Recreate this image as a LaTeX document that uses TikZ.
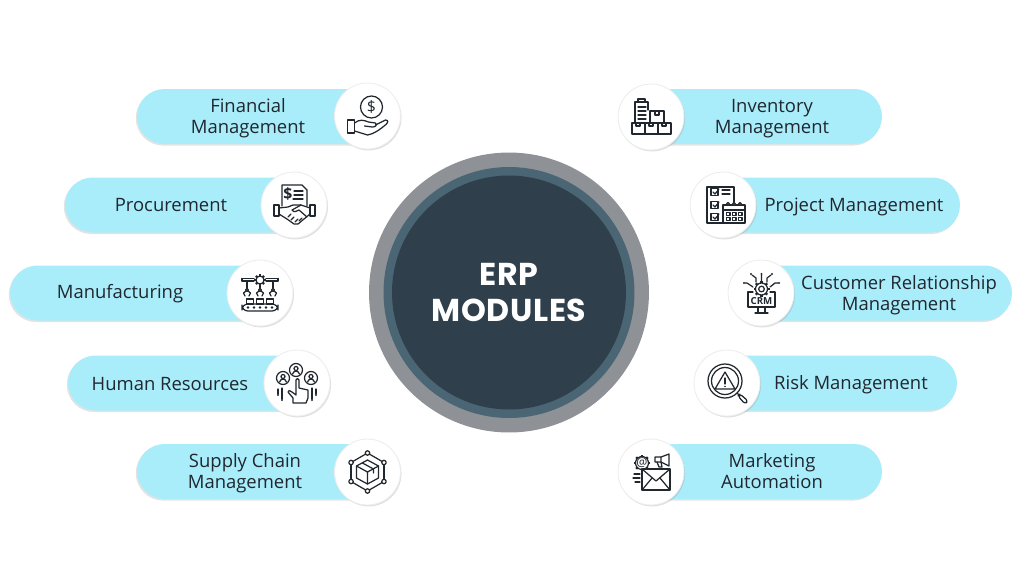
\documentclass[tikz,border=0pt]{standalone}
\usepackage{fontspec}
\setmainfont{Open Sans}
\newfontfamily\titlefont[LetterSpace=2]{Poppins}
\usepackage{xcolor}
\usetikzlibrary{shapes.misc,shadows,calc}

\definecolor{pillblue}{HTML}{A9EDFB}
\definecolor{ringgrey}{HTML}{8E9196}
\definecolor{ringblue}{HTML}{4A6573}
\definecolor{coredark}{HTML}{2F3F4C}
\definecolor{inkdark}{HTML}{20272E}

\tikzset{
    pill/.style={fill=pillblue, rounded rectangle, minimum height=1.1cm, inner sep=0pt,
        drop shadow={shadow xshift=-0.7pt, shadow yshift=-0.9pt, opacity=0.22}},
    pilltext/.style={text=inkdark, align=center, inner sep=0pt, font=\fontsize{10.5}{11.9}\selectfont},
    iconbase/.style={circle, fill=white, draw=black!7, line width=0.5pt, minimum size=1.32cm, inner sep=0pt,
        drop shadow={shadow xshift=0.6pt, shadow yshift=-0.8pt, opacity=0.25}},
    icon/.style={draw=inkdark, line width=0.7pt, line join=round, line cap=round},
    icontext/.style={text=inkdark, inner sep=0pt}
}

\newcommand{\gearshape}[3]{%
    \draw (#1,#2) circle (#3);
    \foreach \a in {0,45,...,315}
        \draw[line width=1.3pt, line cap=butt] ($(#1,#2)+(\a:#3)$) -- ($(#1,#2)+(\a:#3+1.8)$);
}

\begin{document}
\begin{tikzpicture}[x=0.02cm, y=-0.02cm]
    \useasboundingbox (0,0) rectangle (1024,576);

    % Centre
    \node[circle, fill=ringgrey, minimum size=5.6cm, inner sep=0pt] (outerring) at (509,292.5) {};
    \node[circle, fill=ringblue, minimum size=5.02cm, inner sep=0pt] (midring) at (509,292.5) {};
    \node[circle, fill=coredark, minimum size=4.68cm, inner sep=0pt, text=white, align=center,
        font=\titlefont\bfseries\fontsize{18}{20.4}\selectfont] (core) at (509,292.5) {ERP\\MODULES};

    % Pills on the left
    \foreach \n/\l/\r/\y/\t/\ty/\s in {
        fin/137/367/116.5/248/118/{Financial\\Management},
        proc/65/294/205/171/205/{Procurement},
        manu/10/260/293/120/294/{Manufacturing},
        hr/68/297/383/170/384/{Human Resources},
        supply/137/367/471.5/245/473.5/{Supply Chain\\Management}} {
        \pgfmathsetmacro{\w}{(\r-\l)*0.02}
        \node[pill, rounded rectangle east arc=none, minimum width=\w cm] (\n) at ({(\l+\r)/2},\y) {};
        \node[pilltext] (\n text) at (\t,\ty) {\s};
    }

    % Pills on the right
    \foreach \n/\l/\r/\y/\t/\ty/\s in {
        inv/651/882/116.5/772/118.5/{Inventory\\Management},
        proj/723/960/205/854/207/{Project Management},
        crm/761/1012/293/899/295.5/{Customer Relationship\\Management},
        risk/727/957/383/851/385/{Risk Management},
        mkt/651/882/471.5/772/471/{Marketing\\Automation}} {
        \pgfmathsetmacro{\w}{(\r-\l)*0.02}
        \node[pill, rounded rectangle west arc=none, minimum width=\w cm] (\n) at ({(\l+\r)/2},\y) {};
        \node[pilltext] (\n text) at (\t,\ty) {\s};
    }

    % Icon discs
    \foreach \n/\x/\y in {fin/367.5/116, proc/294/205, manu/260/293, hr/297/383, supply/367.5/472,
        inv/651/117, proj/723/205, crm/761/293, risk/727/383, mkt/651/472}
        \node[iconbase] (\n disc) at (\x,\y) {};

    % Financial: coin over hand
    \begin{scope}[shift={(367.5,116)}, icon]
        \draw (4,-9) circle (11);
        \node[icontext, font=\fontsize{9}{9}\selectfont] (dollarfin) at (4,-9) {\$};
        \draw (-20,4) rectangle (-13,17);
        \draw (-13,7) .. controls (-8,3) and (-4,4) .. (1,6) -- (8,7) .. controls (10,9) and (8,11) .. (5,11) -- (-3,10);
        \draw (8,9) -- (18,4) .. controls (21,4) and (21,7) .. (19,8) .. controls (12,14) and (6,18) .. (0,19) -- (-13,15);
    \end{scope}

    % Procurement: document and handshake
    \begin{scope}[shift={(294,205)}, icon]
        \draw (-12,1) -- (-12,-20) -- (8,-20) -- (13,-15) -- (13,1);
        \node[icontext, font=\fontsize{9}{9}\selectfont\bfseries] (dollarproc) at (-6,-11) {\$};
        \draw (0,-14) -- (9,-14) (0,-10) -- (9,-10) (-1,-6) -- (9,-6);
        \draw (-20,0) rectangle (-15,11);
        \draw (16,0) rectangle (21,11);
        \draw (-15,3) -- (-6,2) -- (-1,0) -- (7,0) -- (16,3);
        \draw (-15,9) -- (-7,14) -- (0,19) -- (4,19) -- (16,9);
        \draw (7,0) -- (-2,5) .. controls (0,8) and (3,6) .. (5,5) -- (13,12);
        \draw (-6,12) -- (-3,9) (-3,15) -- (0,12) (1,17) -- (4,14) (5,16) -- (8,13);
    \end{scope}

    % Manufacturing: arms over a conveyor
    \begin{scope}[shift={(260,293)}, icon]
        \draw (-18,-14.5) -- (-6,-14.5) (6,-14.5) -- (18,-14.5);
        \draw (-18,-12) -- (-6,-12) (6,-12) -- (18,-12);
        \draw (-18,-14.5) -- (-18,-12) (18,-14.5) -- (18,-12);
        \gearshape{0}{-13}{4}
        \foreach \ax in {-13,0,13} {
            \draw (\ax,-7) -- (\ax,-3);
            \draw[fill=white] (\ax,-3) circle (1.4);
            \draw (\ax-1,-2) -- (\ax-3.5,0) -- (\ax-2,3) (\ax+1,-2) -- (\ax+3.5,0) -- (\ax+2,3);
        }
        \draw (-13,-12) -- (-13,-7) (13,-12) -- (13,-7);
        \foreach \bx in {-13.5,-3.5,6.5}
            \draw (\bx,11) rectangle ++(7,-5);
        \draw[rounded corners=3.4] (-18,11) rectangle (18,18);
        \foreach \dx in {-12,-6,0,6,12}
            \fill[inkdark] (\dx,14.5) circle (1.3);
    \end{scope}

    % Human Resources: three people and a pointing hand
    \begin{scope}[shift={(297,383)}, icon]
        \foreach \px/\py in {-14/-5, -1/-13, 14/-5} {
            \draw (\px,\py) circle (6.5);
            \draw (\px,\py-1.5) circle (2);
            \draw (\px-3.5,\py+4) .. controls (\px-2,\py) and (\px+2,\py) .. (\px+3.5,\py+4);
        }
        \draw[fill=white] (-4,20) -- (-4,15) -- (-9,9) .. controls (-9,7) and (-7,7) .. (-5,9) -- (-1,12)
            -- (-1,-3) .. controls (-1,-5) and (2,-5) .. (2,-3) -- (2,5) -- (11,7) -- (11,15) -- (9,20) -- cycle;
        \draw (-15,5) -- (-15,16) (-19,6) -- (-19,11) (15,5) -- (15,16) (19,6) -- (19,11);
        \fill[inkdark] (-15,17) circle (1.2) (-19,12) circle (1.2) (15,17) circle (1.2) (19,12) circle (1.2);
    \end{scope}

    % Supply Chain: box in a hexagon of dots
    \begin{scope}[shift={(367.5,472)}, icon]
        \foreach \a in {30,90,...,330}
            \draw (\a:19) -- (\a+60:19);
        \foreach \a in {30,90,...,330}
            \draw[fill=white] (\a:19) circle (2.2);
        \draw (-11,-6) -- (0,-12) -- (11,-6) -- (11,6) -- (0,12) -- (-11,6) -- cycle;
        \draw (-11,-6) -- (0,0) -- (11,-6) (0,0) -- (0,12);
        \draw (-5,-9) -- (6,-3) -- (6,1);
    \end{scope}

    % Inventory: clipboard and boxes
    \begin{scope}[shift={(651,117)}, icon]
        \draw (-16,5) -- (-16,-15) -- (-3,-15) -- (-3,-7);
        \draw[fill=white] (-13,-18) rectangle (-6,-15);
        \foreach \ly in {-10,-6,-2,2}
            \draw (-13,\ly) -- (-5,\ly);
        \draw[fill=white] (-1,-6) rectangle (13,6);
        \draw (4,-6) -- (4,-2) -- (8,-2) -- (8,-6);
        \foreach \bx in {-19,-6,7} {
            \draw[fill=white] (\bx,6) rectangle ++(13,11);
            \draw (\bx+4,6) -- (\bx+4,9) -- (\bx+8,9) -- (\bx+8,6);
        }
    \end{scope}

    % Project: checklist and calendar
    \begin{scope}[shift={(723,205)}, icon]
        \draw (-16,-18) rectangle (11,18);
        \foreach \cy in {-13,0,12} {
            \draw (-12,\cy-3.5) rectangle ++(7,7);
            \draw (-10,\cy) -- (-8,\cy+2) -- (-4,\cy-3);
        }
        \draw (-1,-15) -- (7,-15) (-1,-11) -- (7,-11);
        \draw[fill=white] (0,0) rectangle (22,18);
        \draw (0,5) -- (22,5);
        \foreach \rx in {5,11,17}
            \draw[fill=white] (\rx,-1) circle (1.5);
        \foreach \gx in {3.5,9.5,15.5}
            \foreach \gy in {7.5,12.5}
                \draw[line width=0.6pt] (\gx,\gy) rectangle ++(3.5,3);
    \end{scope}

    % CRM: gear on a monitor with circuit lines
    \begin{scope}[shift={(761,293)}, icon]
        \draw (-8,-1) -- (-13,-1) -- (-13,14) -- (14,14) -- (14,-1) -- (9,-1);
        \draw (-3,14) -- (-3,19) (4,14) -- (4,19) (-6,20) -- (7,20);
        \draw[fill=white] (0.5,-4) circle (6);
        \draw (0.5,-4) circle (2.8);
        \foreach \a in {0,45,...,315}
            \draw[line width=1.3pt, line cap=butt] ($(0.5,-4)+(\a:6)$) -- ($(0.5,-4)+(\a:8)$);
        \node[icontext, font=\fontsize{5.5}{5.5}\selectfont\bfseries] (crmlogo) at (0.5,8) {CRM};
        \draw (0.5,-12) -- (0.5,-18) (-5,-11) -- (-5,-15) -- (-9,-18) (6,-11) -- (6,-15) -- (10,-18);
        \draw (-8,-6) -- (-14,-10) -- (-16,-10) (9,-6) -- (14,-10) -- (17,-10);
        \fill[inkdark] (0.5,-19) circle (1.2) (-10,-19) circle (1.2) (11,-19) circle (1.2) (-17,-10) circle (1.2) (18,-10) circle (1.2);
    \end{scope}

    % Risk: magnifier with warning sign
    \begin{scope}[shift={(727,383)}, icon]
        \draw (-2,-2) circle (17);
        \draw (-2,-2) circle (13.5);
        \draw (-2,-11) -- (8,6) -- (-12,6) -- cycle;
        \draw (-2,-5) -- (-2,1);
        \fill[inkdark] (-2,3.5) circle (0.9);
        \draw (10,10) -- (13,13);
        \draw[rounded corners=1.5] (13,11) -- (21,18) -- (18,21) -- (11,13) -- cycle;
    \end{scope}

    % Marketing: at sign gear, megaphone, envelope
    \begin{scope}[shift={(651,472)}, icon]
        \gearshape{-9}{-9}{6.5}
        \node[icontext, font=\fontsize{7}{7}\selectfont] (atsign) at (-9,-9) {@};
        \draw (4,-15) -- (10,-15) -- (18,-18) -- (18,-6) -- (10,-10) -- (4,-10) -- cycle;
        \draw (10,-15) -- (10,-10) (6,-10) -- (8,-5) -- (11,-5) -- (10,-10);
        \draw[fill=white] (-9,-3) rectangle (19,18);
        \draw (-9,-3) -- (5,9) -- (19,-3);
        \draw (-9,18) -- (1,6) (19,18) -- (9,6);
        \draw (-17,2) -- (-11,2) (-18,6) -- (-11,6) (-16,10) -- (-11,10);
    \end{scope}
\end{tikzpicture}
\end{document}
